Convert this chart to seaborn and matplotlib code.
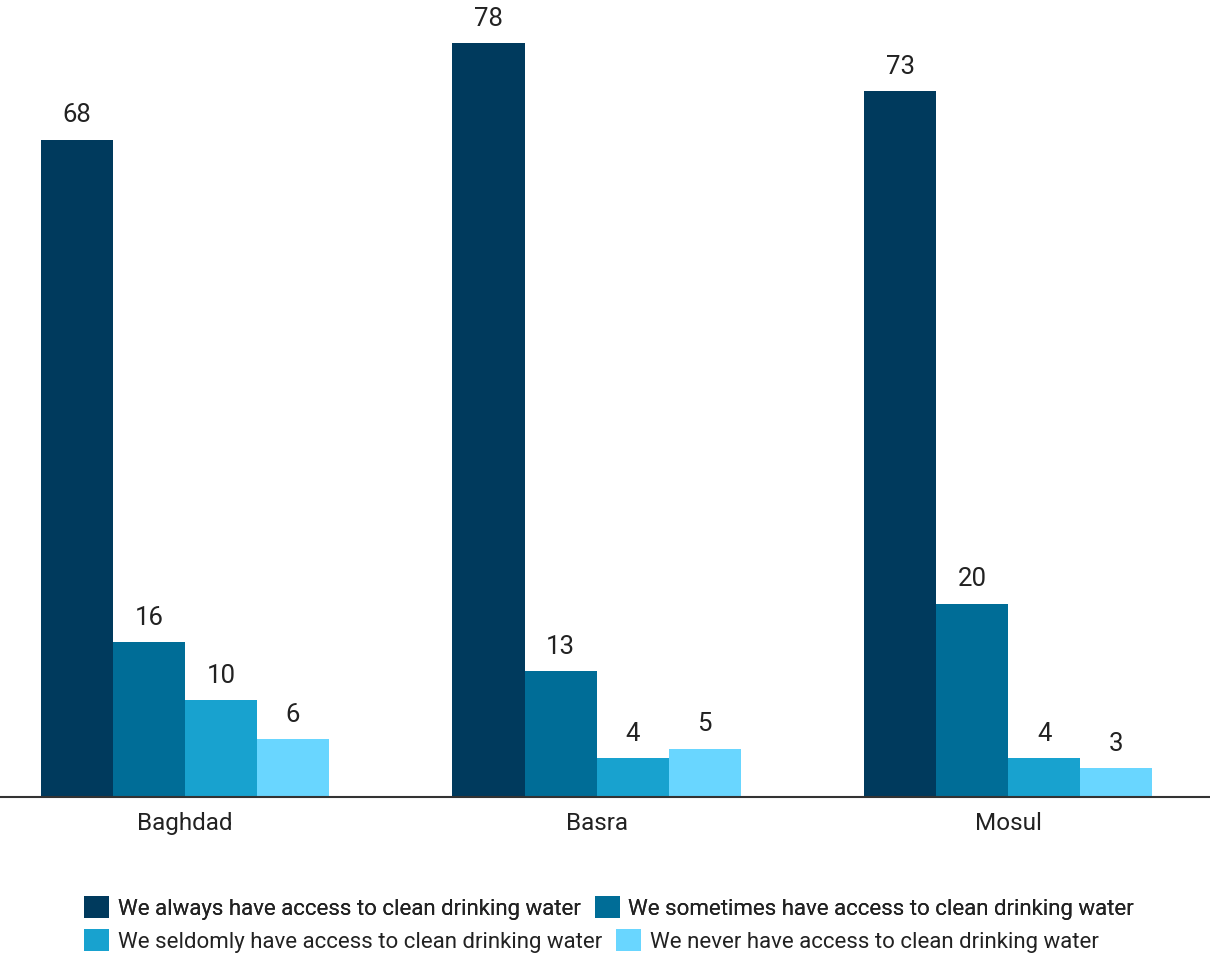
import matplotlib
matplotlib.use("Agg")
import matplotlib.pyplot as plt
import seaborn as sns
import pandas as pd

cities = ["Baghdad", "Basra", "Mosul"]
series = [
    "We always have access to clean drinking water",
    "We sometimes have access to clean drinking water",
    "We seldomly have access to clean drinking water",
    "We never have access to clean drinking water",
]
always = [68, 78, 73]
sometimes = [16, 13, 20]
seldomly = [10, 4, 4]
never = [6, 5, 3]
colors = ["#003A5D", "#006D97", "#18A2CF", "#69D6FF"]

rows = []
for s, vals in zip(series, [always, sometimes, seldomly, never]):
    for c, v in zip(cities, vals):
        rows.append({"city": c, "series": s, "value": v})
df = pd.DataFrame(rows)

sns.set_style("white")
plt.rcParams["font.family"] = ["Roboto", "DejaVu Sans"]

fig = plt.figure(figsize=(12.1, 9.56), dpi=100)
ax = fig.add_axes([0, 0.1663, 1, 0.8337])
sns.barplot(data=df, x="city", y="value", hue="series", hue_order=series,
            order=cities, palette=colors, saturation=1, width=0.7, ax=ax,
            linewidth=0, edgecolor="none")
for cont in ax.containers:
    ax.bar_label(cont, padding=9, fontsize=18.5, color="#222222")

ax.set_ylim(0, 82.45)
ax.set_xlim(-0.449, 2.49)
ax.set_xlabel("")
ax.set_ylabel("")
ax.set_yticks([])
ax.tick_params(axis="x", length=0, pad=11, labelsize=17.5, labelcolor="#222222")
for sp in ["top", "left", "right"]:
    ax.spines[sp].set_visible(False)
ax.spines["bottom"].set_color("#333333")
ax.spines["bottom"].set_linewidth(1.5)

handles, labels = ax.get_legend_handles_labels()
ax.legend_.remove()
leg_kw = dict(loc="center left", ncol=2, frameon=False, fontsize=16,
              handlelength=1.12, handleheight=1.12, handletextpad=0.4,
              columnspacing=0.63, borderpad=0, borderaxespad=0,
              labelcolor="#222222")
leg1 = fig.legend(handles[:2], labels[:2],
                  bbox_to_anchor=(84 / 1210, 1 - 908 / 956), **leg_kw)
fig.add_artist(leg1)
leg2 = fig.legend(handles[2:], labels[2:],
                  bbox_to_anchor=(84 / 1210, 1 - 941 / 956), **leg_kw)

fig.savefig("out.png", dpi=100)
